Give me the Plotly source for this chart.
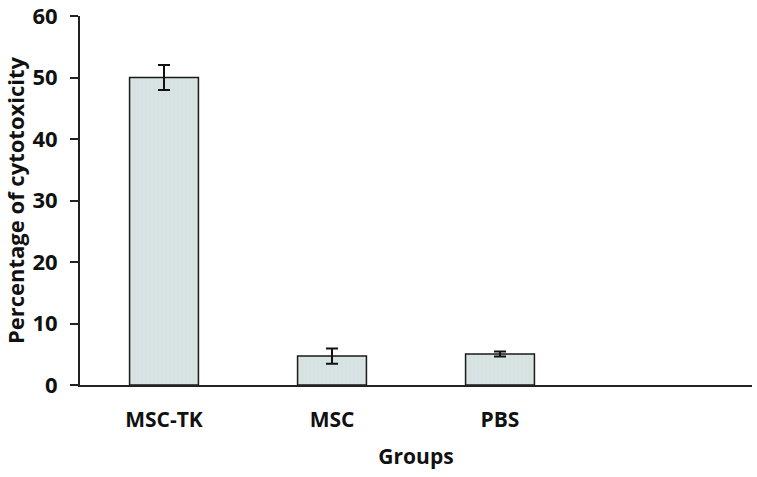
import plotly.graph_objects as go

groups = ["MSC-TK", "MSC", "PBS"]
cytotoxicity = [50.0, 4.7, 5.05]
errors = [2.05, 1.25, 0.4]
y_ticks = [0, 10, 20, 30, 40, 50, 60]

fig = go.Figure()
fig.add_trace(go.Bar(
    x=groups, y=cytotoxicity,
    width=0.41,
    marker=dict(color="#d8e3e3", line=dict(color="#1a1a1a", width=1.5),
                pattern=dict(shape="|", fgcolor="#c6d2d2", size=4, solidity=0.15)),
    error_y=dict(type="data", array=errors, color="#111111", thickness=2, width=6),
    showlegend=False,
))

font = "'Open Sans', Arial, sans-serif"
fig.update_layout(
    width=757, height=477,
    margin=dict(l=80, r=5, t=16, b=92),
    plot_bgcolor="white", paper_bgcolor="white",
    font=dict(family=font, color="#111111"),
    xaxis=dict(
        range=[-0.5, 3.5], showline=True, linecolor="#222222", linewidth=2,
        ticks="", tickfont=dict(size=21, family=font, weight="bold"),
        ticklabelstandoff=15, automargin=False,
        title=dict(text="<b>Groups</b>", font=dict(size=21, family=font), standoff=17),
        showgrid=False, zeroline=False,
    ),
    yaxis=dict(
        range=[0, 60], tickvals=y_ticks, showline=True, linecolor="#222222", linewidth=2,
        ticks="outside", ticklen=8, tickwidth=1.5, tickcolor="#222222",
        tickfont=dict(size=22, family=font, weight="bold"),
        ticklabelstandoff=8, automargin=False, ticklabeloverflow="allow",
        title=dict(text="<b>Percentage of cytotoxicity</b>", font=dict(size=22, family=font), standoff=16),
        showgrid=False, zeroline=False,
    ),
)

fig.write_html("out.html", config={"displayModeBar": False},
               post_script="document.body.style.margin='0';")
